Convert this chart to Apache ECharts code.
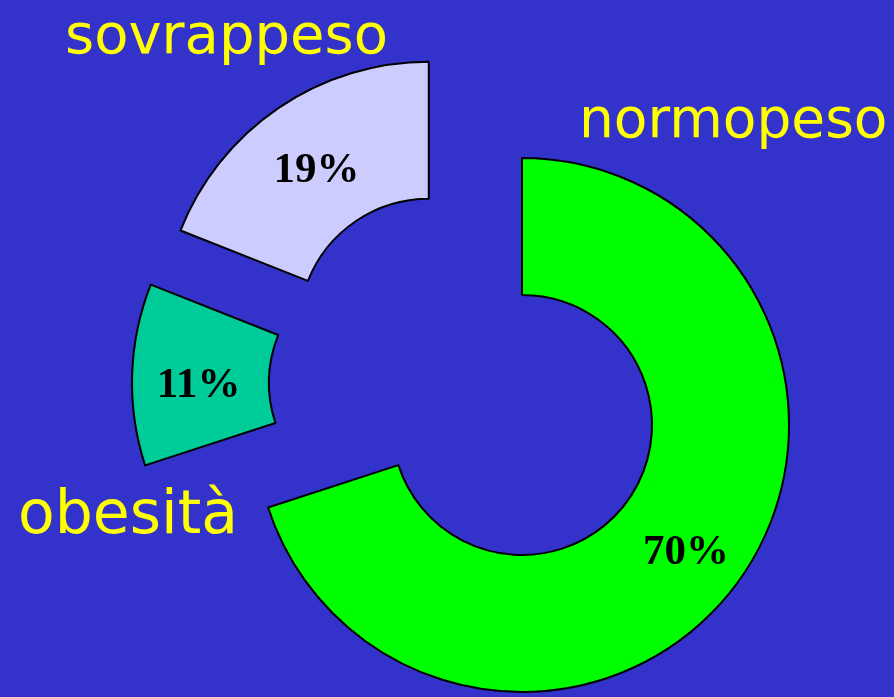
<!DOCTYPE html>
<html>
<head>
<meta charset="utf-8">
<script src="https://cdn.jsdelivr.net/npm/echarts@6/dist/echarts.min.js"></script>
<style>
  html, body { margin: 0; padding: 0; background: #3333cc; }
  #chart { width: 894px; height: 697px; }
</style>
</head>
<body>
<div id="chart"></div>
<script>
// clockwise from 12 o'clock
const categories = ['normopeso', 'obesità', 'sovrappeso']
const values = [70, 11, 19]
const colors = ['#00ff00', '#00cc99', '#ccccff']

const chart = echarts.init(document.getElementById('chart'))

const nameFont = '"DejaVu Sans", sans-serif'
const option = {
  backgroundColor: '#3333cc',
  animation: false,
  title: [
    { text: categories[2], left: 60, top: 5, size: 56 },
    { text: categories[0], left: 574, top: 90, size: 55 },
    { text: categories[1], left: 13, top: 482, size: 60 }
  ].map(t => ({
    text: t.text, left: t.left, top: t.top,
    textStyle: { color: '#ffff00', fontSize: t.size, fontWeight: 'normal', fontFamily: nameFont }
  })),
  series: [
    {
      type: 'pie',
      center: [467, 385],
      radius: [130, 267],
      startAngle: 90,
      clockwise: true,
      selectedMode: 'multiple',
      selectedOffset: 68,
      avoidLabelOverlap: false,
      emphasis: { disabled: true },
      itemStyle: { borderColor: '#000', borderWidth: 2 },
      label: {
        show: true,
        position: 'inside',
        formatter: '{c}%',
        color: '#000',
        fontSize: 43,
        fontWeight: 'bold',
        fontFamily: '"Liberation Serif", serif'
      },
      labelLayout: { dx: 1, dy: 9 },
      labelLine: { show: false },
      data: categories.map((name, i) => ({
        name,
        value: values[i],
        selected: true,
        itemStyle: { color: colors[i] }
      }))
    }
  ]
}
chart.setOption(option)
</script>
</body>
</html>
